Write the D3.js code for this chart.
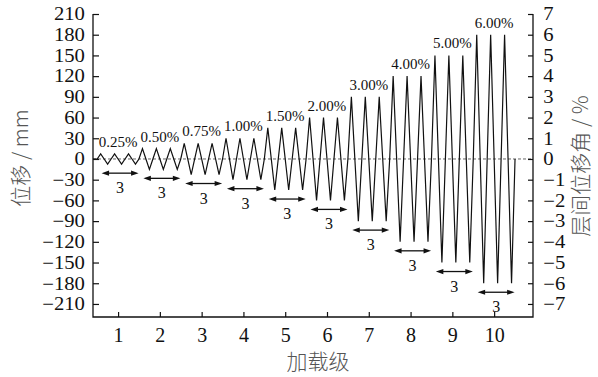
<!DOCTYPE html>
<html lang="zh">
<head>
    <meta charset="UTF-8">
    <title>加载制度</title>
    <script src="https://cdn.jsdelivr.net/npm/d3@7/dist/d3.min.js"></script>
    <style>
        body { margin: 0; background: #fff; }
        .num { font-family: "Liberation Serif", "Times New Roman", serif; fill: #111; }
        .cjk { font-family: "Noto Sans CJK SC", sans-serif; fill: #555; font-weight: 300; }
    </style>
</head>
<body>
<div id="main"></div>
<script>
    // 加载级 & 每级位移幅值
    const levels = [1, 2, 3, 4, 5, 6, 7, 8, 9, 10];
    const driftLabels = ["0.25%", "0.50%", "0.75%", "1.00%", "1.50%", "2.00%", "3.00%", "4.00%", "5.00%", "6.00%"];
    const amplitudes = [7.5, 15, 22.5, 30, 45, 60, 90, 120, 150, 180];   // mm
    const cycles = [3, 3, 3, 3, 3, 3, 3, 3, 3, 3];
    const dispTicks = [210, 180, 150, 120, 90, 60, 30, 0, -30, -60, -90, -120, -150, -180, -210];
    const driftTicks = [7, 6, 5, 4, 3, 2, 1, 0, -1, -2, -3, -4, -5, -6, -7];

    const W = 598, H = 377;
    const mL = 93, mR = 533, mT = 14, mB = 317;

    const svg = d3.select('#main').append('svg')
        .attr('width', W).attr('height', H);

    const x = d3.scaleLinear().domain([0.4, 10.93]).range([mL, mR]);
    const y = d3.scaleLinear().domain([-228.9, 210]).range([mB, mT]);
    const y2 = d3.scaleLinear().domain([-228.9 / 30, 7]).range([mB, mT]);

    // 零线
    svg.append('line')
        .attr('x1', mL).attr('x2', mR)
        .attr('y1', y(0)).attr('y2', y(0))
        .attr('stroke', '#666').attr('stroke-width', 1)
        .attr('stroke-dasharray', '3,2');

    // 加载曲线：每级 3 个循环  0 -> +A -> 0 -> -A -> 0
    const pts = [[0.4, 0]];
    levels.forEach((k, li) => {
        const A = amplitudes[li], n = cycles[li];
        for (let i = 0; i < n; i++) {
            [0, A, 0, -A].forEach((v, j) => pts.push([k - 0.5 + (i + j / 4) / n, v]));
        }
    });
    pts.push([levels[levels.length - 1] + 0.5, 0]);

    svg.append('path')
        .datum(pts)
        .attr('fill', 'none')
        .attr('stroke', '#111')
        .attr('stroke-width', 1.2)
        .attr('stroke-linejoin', 'miter')
        .attr('d', d3.line().x(d => x(d[0])).y(d => y(d[1])));

    // 幅值标签
    svg.selectAll('.pct').data(levels).enter().append('text')
        .attr('class', 'num pct')
        .attr('x', k => x(k))
        .attr('y', (k, i) => y(amplitudes[i]) - 7)
        .attr('text-anchor', 'middle')
        .style('font-size', '15px')
        .text((k, i) => driftLabels[i]);

    // 循环次数箭头
    const arr = svg.selectAll('.arr').data(levels).enter().append('g').attr('class', 'arr')
        .attr('transform', (k, i) => `translate(${x(k) + 2},${y(-amplitudes[i]) + 9})`);
    arr.append('line')
        .attr('x1', -14).attr('x2', 14)
        .attr('stroke', '#111').attr('stroke-width', 1.3);
    arr.append('path')
        .attr('d', 'M-18.5,0 L-11,-2.6 L-11,2.6 Z M18.5,0 L11,-2.6 L11,2.6 Z')
        .attr('fill', '#111');
    arr.append('text')
        .attr('class', 'num')
        .attr('y', 20)
        .attr('text-anchor', 'middle')
        .style('font-size', '16px')
        .text((k, i) => cycles[i]);

    // 坐标轴
    const axL = svg.append('g').attr('transform', `translate(${mL},0)`)
        .call(d3.axisLeft(y).tickValues(dispTicks).tickSize(-6).tickPadding(7)
            .tickFormat(d => d < 0 ? '\u2212' + Math.abs(d) : d));
    const axR = svg.append('g').attr('transform', `translate(${mR},0)`)
        .call(d3.axisRight(y2).tickValues(driftTicks).tickSize(-5).tickPadding(9)
            .tickFormat(d => d < 0 ? '\u2212' + Math.abs(d) : d));
    const axB = svg.append('g').attr('transform', `translate(0,${mB})`)
        .call(d3.axisBottom(x).tickValues(levels).tickSize(-5).tickPadding(11));

    [axL, axR, axB].forEach(ax => {
        ax.select('.domain').remove();
        ax.selectAll('line').attr('stroke', '#111').attr('stroke-width', 1.2);
        ax.selectAll('text').attr('class', 'num').attr('fill', null).style('font-size', '18px');
    });
    // 纵轴刻度字稍宽
    axL.selectAll('text').attr('transform', 'scale(1.15,1)');
    axR.selectAll('text').attr('transform', 'scale(1.15,1)');
    axB.selectAll('text').style('font-size', '20px');

    // 边框（左、下、右）
    svg.append('path')
        .attr('d', `M${mL},${mT} V${mB} H${mR} V${mT}`)
        .attr('fill', 'none').attr('stroke', '#111').attr('stroke-width', 1.3);

    // 轴标题
    svg.append('text').attr('class', 'cjk')
        .attr('transform', 'translate(28,158) rotate(-90)')
        .attr('text-anchor', 'middle')
        .style('font-size', '21px')
        .text('位移 / mm');
    svg.append('text').attr('class', 'cjk')
        .attr('transform', 'translate(588,166) rotate(-90)')
        .attr('text-anchor', 'middle')
        .style('font-size', '21px')
        .text('层间位移角 / %');
    svg.append('text').attr('class', 'cjk')
        .attr('x', 318).attr('y', 369)
        .attr('text-anchor', 'middle')
        .style('font-size', '21px')
        .text('加载级');
</script>
</body>
</html>
